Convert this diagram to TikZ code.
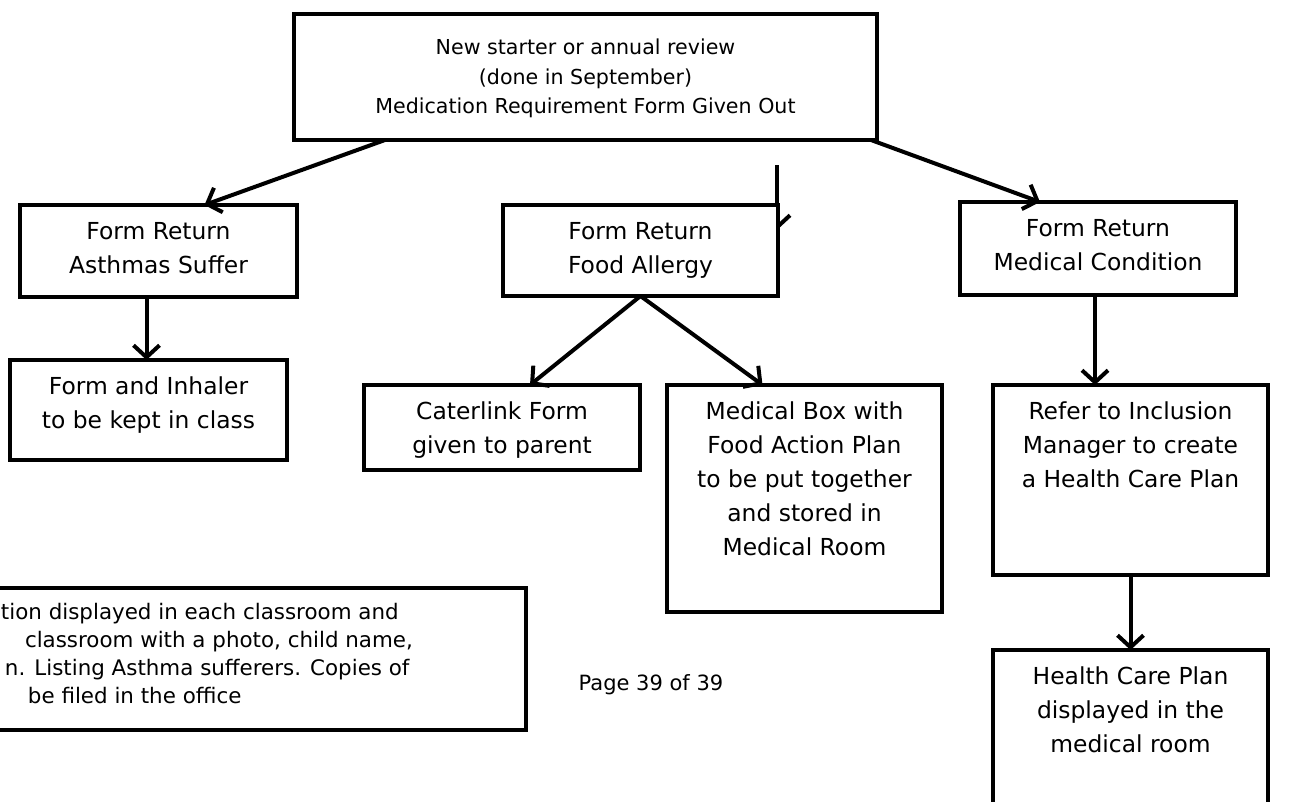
\documentclass[tikz,border=0pt]{standalone}
\usepackage{fontspec}
\setmainfont{DejaVu Sans}
\usetikzlibrary{arrows.meta,positioning}

% text block with fixed size, lines start at the top
\newcommand{\boxlines}[4][11pt]{\parbox[c][#3][t]{#2}{\centering\vspace*{#1}\strut #4}}

\begin{document}
\begin{tikzpicture}[x=1pt,y=-1pt,
        box/.style={draw,line width=4pt,fill=white,inner sep=0pt,outer sep=0pt,
            font=\fontsize{23.4}{34}\selectfont},
        link/.style={line width=4pt,-{Straight Barb[length=12pt,width=26pt]}}]

    \useasboundingbox (0,0) rectangle (1295,801);

    % stray arrow, partly hidden behind the food box
    \coordinate (straytop) at (777,165);
    \coordinate (straytip) at (777,230);
    \draw[link] (straytop) -- (straytip);

    \node[box,font=\fontsize{20.6}{29.5}\selectfont] (start) at (585.5,77)
        {\boxlines[20pt]{583pt}{126pt}{New starter or annual review\\(done in September)\\Medication Requirement Form Given Out}};

    \node[box] (asthma) at (158.5,251) {\boxlines{277pt}{92pt}{Form Return\\Asthmas Suffer}};
    \node[box] (inhaler) [below=63pt of asthma,xshift=-10pt] {\boxlines{277pt}{100pt}{Form and Inhaler\\to be kept in class}};

    \node[box] (food) at (640.5,250.5) {\boxlines{275pt}{91pt}{Form Return\\Food Allergy}};
    \node[box] (cater) at (502,427.5) {\boxlines{276pt}{85pt}{Caterlink Form\\given to parent}};
    \node[box] (medbox) at (804.5,498.5) {\boxlines{275pt}{227pt}{Medical Box with\\Food Action Plan\\to be put together\\and stored in\\Medical Room}};

    \node[box] (cond) at (1098,248.5) {\boxlines{276pt}{93pt}{Form Return\\Medical Condition}};
    \node[box] (refer) [below=90pt of cond,xshift=32.5pt] {\boxlines{275pt}{190pt}{Refer to Inclusion\\Manager to create\\a Health Care Plan}};
    \node[box] (health) [below=75pt of refer] {\boxlines{275pt}{180pt}{Health Care Plan\\displayed in the\\medical room}};

    \node[box,font=\fontsize{21.4}{28}\selectfont] (notice) at (248,659)
        {\parbox[c][142pt][t]{556pt}{\raggedright\vspace*{12pt}\strut
        \hspace*{31pt}tion displayed in each classroom and\\
        \hspace*{55pt}classroom with a photo, child name,\\
        \hspace*{35pt}n. Listing Asthma sufferers. Copies of\\
        \hspace*{58pt}be filed in the office}};

    \node[font=\fontsize{21}{26}\selectfont] (page) at (651,685) {Page 39 of 39};

    \path ([xshift=91pt]start.south west) edge[link] ([xshift=46pt]asthma.north)
        ([xshift=-6pt]start.south east) edge[link] ([xshift=-58pt]cond.north)
        ([xshift=-12pt]asthma.south) edge[link] ([xshift=-12pt]asthma.south |- inhaler.north)
        (food.south) edge[link] ([xshift=28pt]cater.north)
        (food.south) edge[link] ([xshift=-42pt]medbox.north)
        ([xshift=-3pt]cond.south) edge[link] ([xshift=-3pt]cond.south |- refer.north)
        (refer.south) edge[link] (health.north);

\end{tikzpicture}
\end{document}
